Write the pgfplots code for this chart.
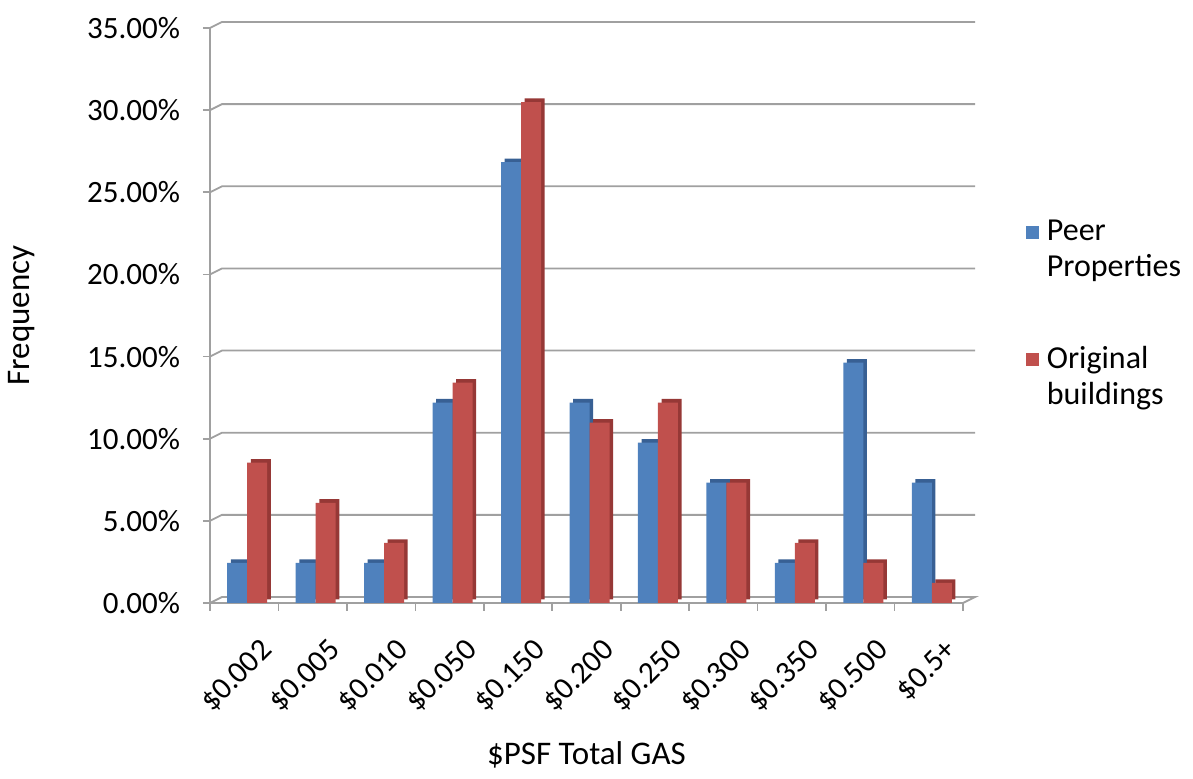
\documentclass[border=0pt]{standalone}
\usepackage{fontspec}
\setmainfont{Carlito}
\usepackage{pgfplots}
\pgfplotsset{compat=1.18}
\definecolor{peer}{RGB}{79,129,189}
\definecolor{peerdark}{RGB}{56,96,148}
\definecolor{orig}{RGB}{192,80,77}
\definecolor{origdark}{RGB}{150,56,54}
\definecolor{gridgray}{RGB}{160,160,160}
\begin{document}
\begin{tikzpicture}
\useasboundingbox (-105pt,-88pt) rectangle (491.5pt,301.5pt);
\begin{axis}[
  at={(0,0)}, anchor=south west,
  scale only axis,
  width=376.5pt, height=287.5pt,
  xmin=-0.5, xmax=10.5,
  ymin=0, ymax=35,
  clip=false,
  ytick={0,5,...,35},
  yticklabels={0.00\%,5.00\%,10.00\%,15.00\%,20.00\%,25.00\%,30.00\%,35.00\%},
  xtick={0,...,10},
  xticklabels={\$0.002,\$0.005,\$0.010,\$0.050,\$0.150,\$0.200,\$0.250,\$0.300,\$0.350,\$0.500,\$0.5+},
  minor xtick={-0.5,0.5,...,10.5},
  major x tick style={draw=none},
  minor x tick style={gridgray, line width=0.8pt},
  y tick style={gridgray, line width=0.8pt},
  tick align=outside,
  major tick length=3.5pt, minor tick length=4pt,
  axis x line*=bottom, axis y line*=left,
  axis line style={gridgray, line width=0.9pt, -},
  yticklabel style={font=\fontsize{15.5}{18}\selectfont, xshift=-8pt},
  xticklabel style={font=\fontsize{15.5}{18}\selectfont, xshift=14pt, yshift=-15.5pt, rotate=45, anchor=east},
  xlabel={\$PSF Total GAS},
  ylabel={Frequency},
  label style={font=\fontsize{16.5}{20}\selectfont},
  xlabel style={at={(0.5,0)}, anchor=base, yshift=-81pt},
  ylabel style={at={(0,0.5)}, anchor=base, yshift=90pt},
  ybar, bar width=10pt,
  legend style={draw=none, fill=none, at={(1.075,0.68)}, anchor=north west,
    font=\fontsize{16}{18}\selectfont, row sep=29pt,
    nodes={align=left, inner xsep=4pt}},
  legend cell align=left,
  legend image code/.code={\fill[#1] (0pt,5.5pt) rectangle (6.5pt,12pt);},
]
% back wall grid and floor
\foreach \v in {5,10,...,35} {
  \edef\tmp{\noexpand\draw[gridgray, line width=0.9pt] (axis cs:-0.5,\v) -- ++(6pt,3pt) -- ([xshift=6pt,yshift=3pt]axis cs:10.5,\v);}
  \tmp
}
\draw[gridgray, line width=0.9pt] (axis cs:-0.5,0) -- ++(6pt,3pt) -- ([xshift=6pt,yshift=3pt]axis cs:10.5,0) -- (axis cs:10.5,0);
\addplot[fill=peerdark, draw=none, bar shift=-3.5pt, xshift=1.8pt, yshift=1.8pt, forget plot] coordinates {
  (0,2.44) (1,2.44) (2,2.44) (3,12.20) (4,26.83) (5,12.20) (6,9.76) (7,7.32) (8,2.44) (9,14.63) (10,7.32)};
\addplot[fill=peer, draw=none, bar shift=-3.5pt] coordinates {
  (0,2.44) (1,2.44) (2,2.44) (3,12.20) (4,26.83) (5,12.20) (6,9.76) (7,7.32) (8,2.44) (9,14.63) (10,7.32)};
\addlegendentry{Peer\\Properties}
\addplot[fill=origdark, draw=none, bar shift=6.5pt, xshift=1.8pt, yshift=1.8pt, forget plot] coordinates {
  (0,8.54) (1,6.10) (2,3.66) (3,13.41) (4,30.49) (5,10.98) (6,12.20) (7,7.32) (8,3.66) (9,2.44) (10,1.22)};
\addplot[fill=orig, draw=none, bar shift=6.5pt] coordinates {
  (0,8.54) (1,6.10) (2,3.66) (3,13.41) (4,30.49) (5,10.98) (6,12.20) (7,7.32) (8,3.66) (9,2.44) (10,1.22)};
\addlegendentry{Original\\buildings}
\end{axis}
\end{tikzpicture}
\end{document}
